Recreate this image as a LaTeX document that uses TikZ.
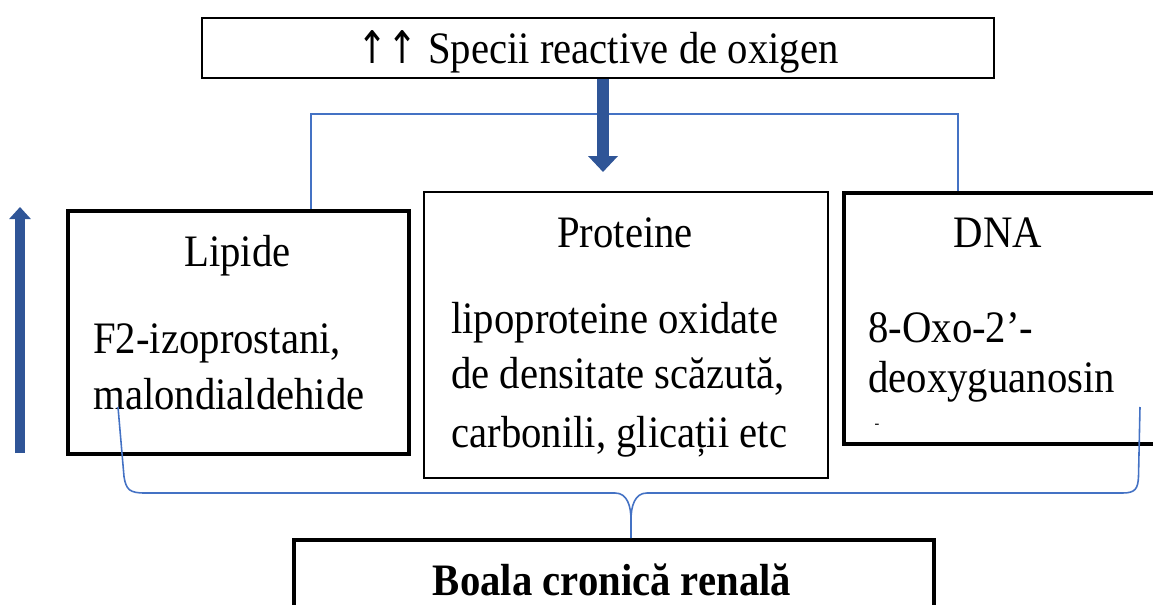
\documentclass[tikz,border=0pt]{standalone}
\usepackage{fontspec}
\setmainfont[FakeStretch=0.905]{Liberation Serif}
\newfontfamily\arrowfont[FakeStretch=0.8]{DejaVu Sans}
\usetikzlibrary{arrows.meta}
\definecolor{linkc}{RGB}{68,114,196}
\definecolor{arrowc}{RGB}{47,85,151}

\begin{document}
\begin{tikzpicture}[scale=1.0,
  thinbox/.style={anchor=north west,draw,shape=rectangle,line width=1.2pt},
  thickbox/.style={anchor=north west,draw,shape=rectangle,line width=2.2pt},
  txt/.style={inner sep=0pt,font=\fontsize{25.6}{31.8}\selectfont},
  link/.style={draw=linkc,line width=0.9pt},
  bigarrow/.style={draw=arrowc,line width=0.24cm,-{Triangle[width=0.58cm,length=0.32cm]}}]

\clip (0cm,0cm) rectangle (23.06cm,12.08cm);

\node[thinbox,line width=1.4pt,minimum width=15.84cm,minimum height=1.2cm]
(specii) at (4.02cm,11.74cm) {};
\node[txt,anchor=base] (speciitxt) at (11.96cm,10.82cm)
{{\arrowfont ↑↑} Specii reactive de oxigen};

\node[thickbox,minimum width=6.82cm,minimum height=4.86cm]
(lipide) at (1.32cm,7.9cm) {};
\node[txt,anchor=base] (lipidetitle) at (4.75cm,6.76cm) {Lipide};
\node[txt,anchor=base west] (lipide1) at (1.86cm,5.02cm) {F2-izoprostani,};
\node[txt,anchor=base west] (lipide2) at (1.86cm,3.9cm) {malondialdehide};

\node[thinbox,minimum width=8.08cm,minimum height=5.72cm]
(proteine) at (8.46cm,8.26cm) {};
\node[txt,anchor=base] (proteinetitle) at (12.5cm,7.14cm) {Proteine};
\node[txt,anchor=base west] (proteine1) at (9.02cm,5.42cm) {lipoproteine oxidate};
\node[txt,anchor=base west] (proteine2) at (9.02cm,4.32cm) {de densitate scăzută,};
\node[txt,anchor=base west] (proteine3) at (9.02cm,3.14cm) {carbonili, glicații etc};

\node[thickbox,minimum width=6.32cm,minimum height=5.02cm]
(dna) at (16.84cm,8.26cm) {};
\node[txt,anchor=base] (dnatitle) at (19.96cm,7.14cm) {DNA};
\node[txt,anchor=base west] (dna1) at (17.36cm,5.24cm) {8-Oxo-2’-};
\node[txt,anchor=base west] (dna2) at (17.36cm,4.24cm) {deoxyguanosin};
\node[inner sep=0pt,font=\fontsize{9}{10}\selectfont] (dnadash) at (17.54cm,3.56cm) {-};

\node[thickbox,minimum width=12.8cm,minimum height=2.5cm]
(boala) at (5.84cm,1.32cm) {};
\node[txt,anchor=base,font=\fontsize{25.6}{31.8}\selectfont\bfseries] (boalatxt)
at (12.24cm,0.18cm) {Boala cronică renală};

\draw[link] ([xshift=1.45cm]lipide.north) |- ([xshift=-0.88cm,yshift=1.54cm]dna.north)
-- ([xshift=-0.88cm]dna.north);

\coordinate (tipdown) at (12.06cm,8.64cm);
\draw[bigarrow] (specii.south -| tipdown) -- (tipdown);
\coordinate (upbase) at (0.4cm,3.02cm);
\coordinate (uptip) at (0.4cm,7.94cm);
\draw[bigarrow,line width=0.2cm,-{Triangle[width=0.42cm,length=0.24cm]}] (upbase) -- (uptip);

\coordinate (bracel) at (2.36cm,3.94cm);
\coordinate (bracer) at (22.8cm,3.94cm);
\coordinate (stem) at (12.62cm,1.68cm);
\draw[link] (bracel) -- (2.48cm,2.55cm) .. controls (2.52cm,2.28cm) and (2.6cm,2.22cm) .. (2.9cm,2.22cm)
-- (12.3cm,2.22cm) .. controls (12.55cm,2.22cm) and (12.62cm,1.95cm) .. (stem)
-- (stem |- boala.north);
\draw[link] (stem) .. controls (12.62cm,1.95cm) and (12.69cm,2.22cm) .. (12.94cm,2.22cm)
-- (22.45cm,2.22cm) .. controls (22.7cm,2.22cm) and (22.76cm,2.3cm) .. (22.77cm,2.55cm)
-- (bracer);

\end{tikzpicture}
\end{document}
